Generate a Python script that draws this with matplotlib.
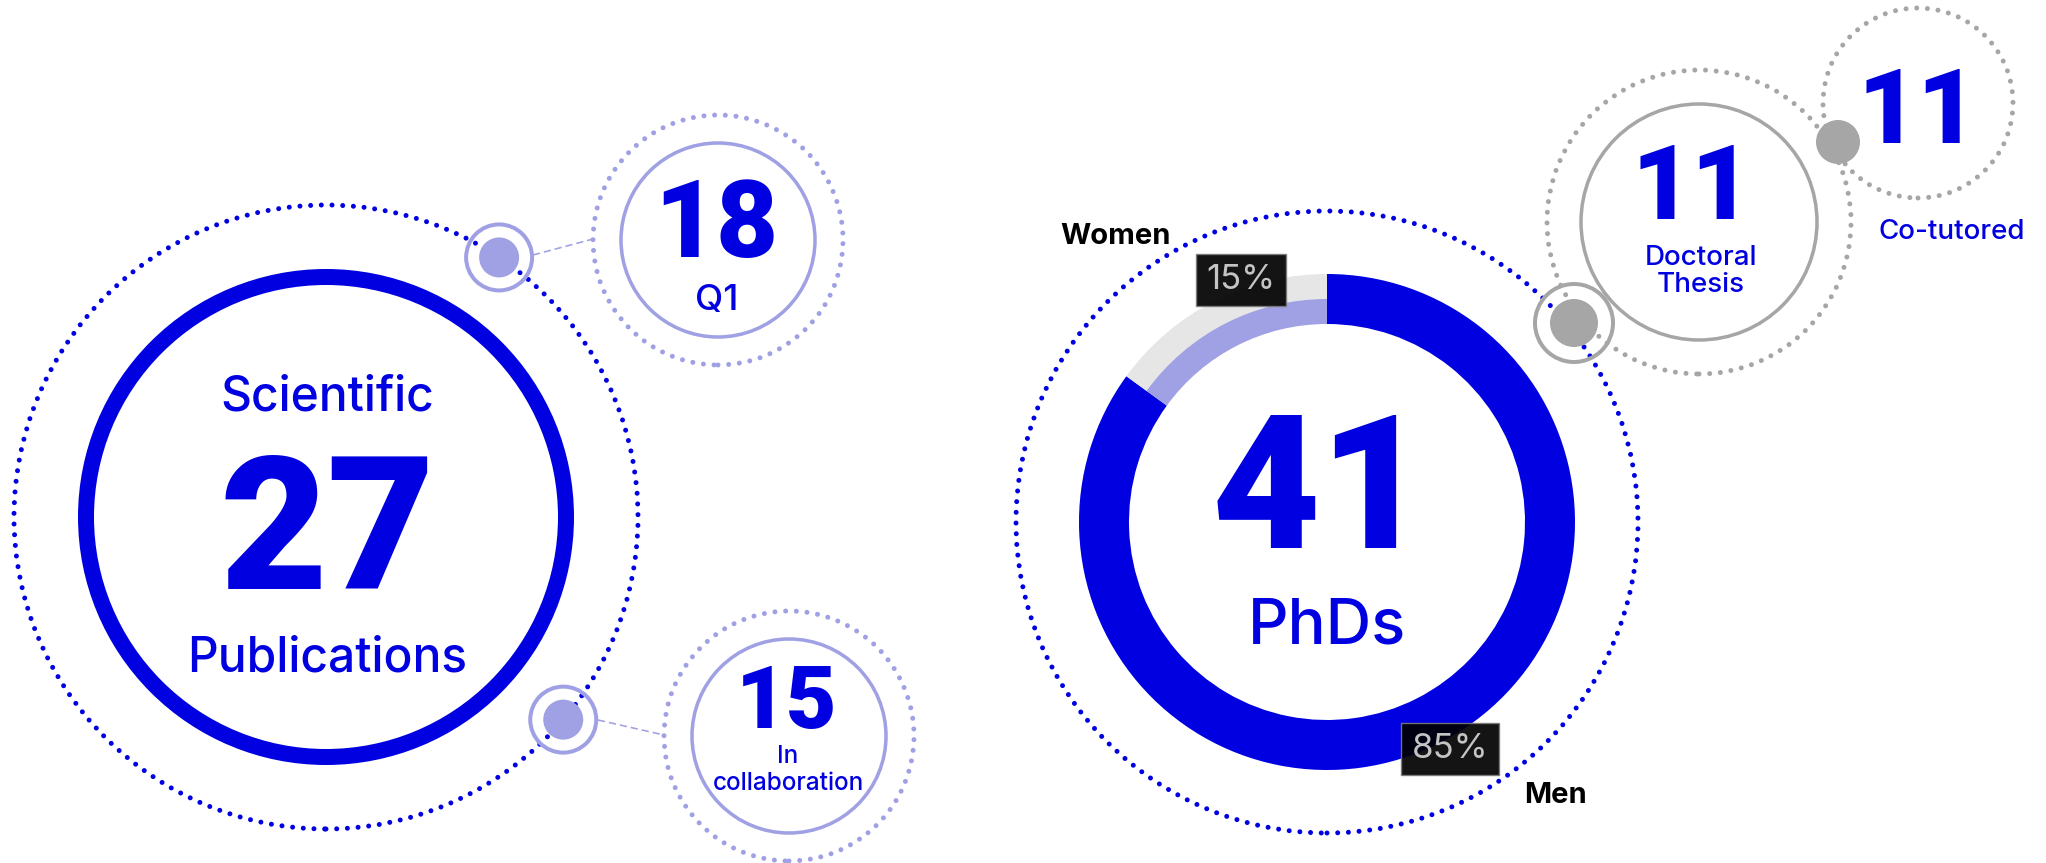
import numpy as np
import matplotlib
matplotlib.use('Agg')
import matplotlib.pyplot as plt
from matplotlib.patches import Circle, Wedge
from matplotlib import font_manager as fm

W, H, DPI = 2046, 863, 100

# --- data ---
pub_total = 27
pub_label = ['Scientific', 'Publications']
pub_parts = [18, 15]
pub_part_labels = ['Q1', 'In\ncollaboration']
phd_total = 41
phd_label = 'PhDs'
gender_labels = ['Women', 'Men']
gender_share = [15, 85]
thesis_values = [11, 11]
thesis_labels = ['Doctoral\nThesis', 'Co-tutored']

BLUE = '#0000e1'
LILAC = '#a0a0e4'
GREY = '#a6a6a6'
LIGHT = '#e6e6e6'


def heaviest(cands):
    best, best_w = 'DejaVu Sans', 0
    for fam in cands:
        ws = [f.weight if isinstance(f.weight, int) else 400
              for f in fm.fontManager.ttflist if f.name == fam]
        if ws and max(ws) > best_w:
            best, best_w = fam, max(ws)
    return best

installed = {f.name for f in fm.fontManager.ttflist}
NUM_FONT = heaviest(['Roboto', 'Inter', 'Lato', 'Open Sans', 'Noto Sans'])
TEXT_FONT = next((f for f in ['Inter', 'Roboto', 'Noto Sans'] if f in installed), 'DejaVu Sans')


def px(v):
    return v * 72 / DPI


def P(x, y):
    # layout is measured from the top-left corner
    return (x, H - y)


fig = plt.figure(figsize=(W / DPI, H / DPI), dpi=DPI)
ax = fig.add_axes([0, 0, 1, 1])
ax.set_xlim(0, W)
ax.set_ylim(0, H)
ax.set_aspect('equal')
ax.axis('off')


def dotted(c, r, color, dot=5.0, gap=10.7):
    circ = Circle(P(*c), r, fill=False, ec=color, lw=px(dot),
                  linestyle=(0, (0.001, gap / dot)), zorder=1)
    circ.set_capstyle('round')
    ax.add_patch(circ)


def ring(c, r, color, width, z=2):
    ax.add_patch(Circle(P(*c), r, fill=False, ec=color, lw=px(width), zorder=z))


def node(c, r_fill, color, r_ring=None):
    if r_ring:
        ring(c, r_ring, color, 4, z=3)
    ax.add_patch(Circle(P(*c), r_fill, fc=color, ec='none', zorder=4))


def on_circle(c, r, deg):
    a = np.radians(deg)
    return (c[0] + r * np.cos(a), c[1] - r * np.sin(a))


def label(x, y, s, size, color=BLUE, family=None, weight='medium', step=27, **kw):
    for i, line in enumerate(s.split('\n')):
        ax.text(*P(x, y + i * step), line, fontsize=size, color=color,
                family=family or TEXT_FONT, weight=weight,
                ha='center', va='baseline', zorder=6, **kw)


def number(x, y, v, size):
    label(x, y, str(v), size, family=NUM_FONT, weight='black')


def connector(a, b):
    ax.plot([P(*a)[0], P(*b)[0]], [P(*a)[1], P(*b)[1]], color=LILAC,
            lw=px(1.6), dashes=(4.5, 2.5), zorder=1)


# --- publications ---
PUB_C = (326, 517)
dotted(PUB_C, 312, BLUE)
ring(PUB_C, 240, BLUE, 16)
label(327, 411, pub_label[0], 34.5)
number(327, 589, pub_total, 134)
label(327, 672, pub_label[1], 34.5)

part_centres = [(718, 240), (789, 736)]
node_angles = [56.3, -40.5]
part_number_y = [257, 728]
part_sizes = [77, 63]
part_label_y = [310, 763]
part_label_sizes = [26.5, 17.5]
conn_ends = [((533, 255), (593, 239)), ((598, 720), (664, 735))]
for i, v in enumerate(pub_parts):
    c = part_centres[i]
    dotted(c, 125, LILAC)
    ring(c, 97, LILAC, 3.5)
    node(on_circle(PUB_C, 312, node_angles[i]), 20, LILAC, r_ring=33)
    connector(*conn_ends[i])
    number(c[0] - 2, part_number_y[i], v, part_sizes[i])
    label(c[0] - 1, part_label_y[i], pub_part_labels[i], part_label_sizes[i])

# --- PhDs donut ---
PHD_C = (1327, 522)
dotted(PHD_C, 311, BLUE)
women_deg = 360 * gender_share[0] / sum(gender_share)
ax.add_patch(Wedge(P(*PHD_C), 248, 90 + women_deg, 450, width=50,
                   fc=BLUE, ec='none', zorder=2))
ax.add_patch(Wedge(P(*PHD_C), 248, 90, 90 + women_deg, width=26,
                   fc=LIGHT, ec='none', zorder=2))
ax.add_patch(Wedge(P(*PHD_C), 223, 90, 90 + women_deg, width=25,
                   fc=LILAC, ec='none', zorder=2))
number(1320, 548, phd_total, 135)
label(1327, 643, phd_label, 45.5)

gender_label_pos = [(1060, 244), (1524, 803)]
pct_pos = [(1241, 280), (1450, 749)]
for i, g in enumerate(gender_labels):
    ax.text(*P(*gender_label_pos[i]), g, fontsize=21, color='black',
            family=TEXT_FONT, weight='bold', ha='left', va='baseline', zorder=6)
    ax.text(*P(*pct_pos[i]), f'{gender_share[i]}%', fontsize=25, color='#c4c4c4',
            family=TEXT_FONT, weight='normal', ha='center', va='center', zorder=7,
            bbox=dict(boxstyle='square,pad=0.3', fc='black', ec='#7a7a7a',
                      lw=1, alpha=0.92))

# --- theses ---
THESIS_C = (1699, 222)
COTUT_C = (1918, 103)
dotted(THESIS_C, 152, GREY)
ring(THESIS_C, 118, GREY, 3.5)
dotted(COTUT_C, 95, GREY)
node((1574, 323), 24, GREY, r_ring=39)
node((1838, 142), 22, GREY)

number(1692, 219, thesis_values[0], 75)
label(1701, 265, thesis_labels[0], 20)
number(1918, 143, thesis_values[1], 75)
label(1952, 239, thesis_labels[1], 20)

fig.savefig('out.png', dpi=DPI)
